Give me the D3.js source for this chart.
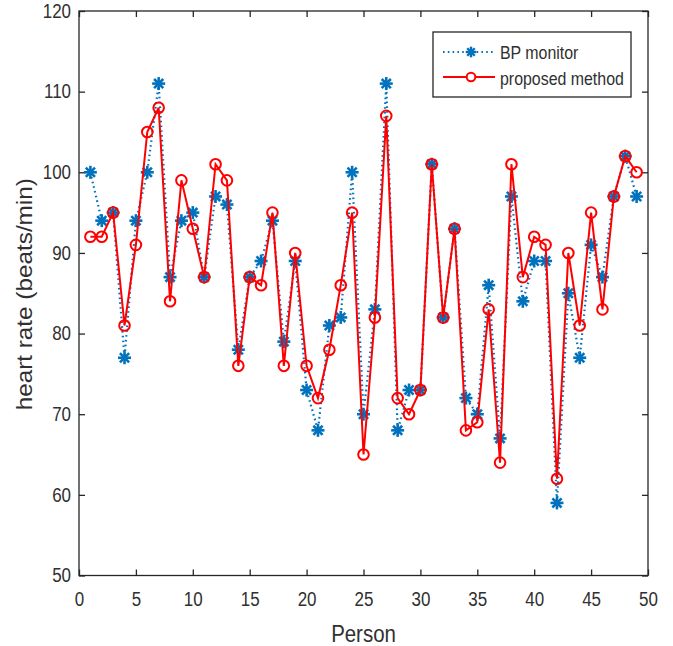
<!DOCTYPE html>
<html><head><meta charset="utf-8">
<script src="https://cdn.jsdelivr.net/npm/d3@7"></script>
<style>
body{margin:0;background:#fff;}
text{font-family:"Liberation Sans",Arial,Helvetica,sans-serif;}
</style></head>
<body>
<svg id="chart" width="673" height="646"></svg>
<script>
const persons = d3.range(1, 50);
const bpMonitor = [100,94,95,77,94,100,111,87,94,95,87,97,96,78,87,89,94,79,89,73,68,81,82,100,70,83,111,68,73,73,101,82,93,72,70,86,67,97,84,89,89,59,85,77,91,87,97,102,97];
const proposed  = [92,92,95,81,91,105,108,84,99,93,87,101,99,76,87,86,95,76,90,76,72,78,86,95,65,82,107,72,70,73,101,82,93,68,69,83,64,101,87,92,91,62,90,81,95,83,97,102,100];
const xTicks = [0,5,10,15,20,25,30,35,40,45,50];
const yTicks = [50,60,70,80,90,100,110,120];
const seriesNames = ["BP monitor","proposed method"];

const SX = 0.87; // horizontal squeeze of text seen in the reference
const svg = d3.select("#chart");
const L=79, R=648, T=11, B=575.5;
const x = d3.scaleLinear().domain([0,50]).range([L,R]);
const y = d3.scaleLinear().domain([50,120]).range([B,T]);
const axisCol = "#262626", textCol = "#303030";

// box
svg.append("rect").attr("x",L).attr("y",T).attr("width",R-L).attr("height",B-T)
  .attr("fill","none").attr("stroke",axisCol).attr("stroke-width",1.3);

// axes
const xa = svg.append("g").attr("transform",`translate(0,${B})`)
  .call(d3.axisBottom(x).tickValues(xTicks).tickSizeInner(-6).tickSizeOuter(0).tickPadding(17));
const xt = svg.append("g").attr("transform",`translate(0,${T})`)
  .call(d3.axisTop(x).tickValues(xTicks).tickSizeInner(-6).tickSizeOuter(0).tickFormat(""));
const ya = svg.append("g").attr("transform",`translate(${L},0)`)
  .call(d3.axisLeft(y).tickValues(yTicks).tickSizeInner(-6).tickSizeOuter(0).tickPadding(8));
const yr = svg.append("g").attr("transform",`translate(${R},0)`)
  .call(d3.axisRight(y).tickValues(yTicks).tickSizeInner(-6).tickSizeOuter(0).tickFormat(""));
[xa,xt,ya,yr].forEach(g=>{
  g.select(".domain").remove();
  g.selectAll("line").attr("stroke",axisCol).attr("stroke-width",1.3);
  g.selectAll("text").attr("fill",textCol).style("font-size","19.5px").attr("font-family",null);
});
xa.selectAll("text").attr("transform",`scale(${SX},1)`);
ya.selectAll("text").attr("x",-8/SX).attr("transform",`scale(${SX},1)`);

// labels
svg.append("text").attr("transform",`translate(${(L+R)/2},642) scale(${SX},1)`).attr("text-anchor","middle")
  .attr("fill",textCol).style("font-size","23.5px").text("Person");
svg.append("text").attr("transform",`translate(32,${(T+B)/2+1}) scale(${SX},1) rotate(-90)`).attr("text-anchor","middle")
  .attr("fill",textCol).style("font-size","24.3px").text("heart rate (beats/min)");

const blue = "#0072BD", red = "#FF0000";
const line = d3.line().x((d,i)=>x(persons[i])).y(d=>y(d));

function star(g, cx, cy, r, w){
  for (let k=0;k<4;k++){
    const a = k*Math.PI/4;
    g.append("line").attr("x1",cx-r*Math.cos(a)).attr("y1",cy-r*Math.sin(a))
      .attr("x2",cx+r*Math.cos(a)).attr("y2",cy+r*Math.sin(a))
      .attr("stroke",blue).attr("stroke-width",w);
  }
}

// BP monitor
svg.append("path").datum(bpMonitor).attr("d",line).attr("fill","none")
  .attr("stroke",blue).attr("stroke-width",2.2).attr("stroke-dasharray","1.6,3.2");
const gs = svg.append("g");
bpMonitor.forEach((v,i)=>star(gs, x(persons[i]), y(v), 6.5, 2.6));

// proposed
svg.append("path").datum(proposed).attr("d",line).attr("fill","none")
  .attr("stroke",red).attr("stroke-width",2);
svg.append("g").selectAll("circle").data(proposed).join("circle")
  .attr("cx",(d,i)=>x(persons[i])).attr("cy",d=>y(d)).attr("r",5.3)
  .attr("fill","none").attr("stroke",red).attr("stroke-width",2);

// legend
const lg = svg.append("g");
lg.append("rect").attr("x",433).attr("y",32).attr("width",198).attr("height",65)
  .attr("fill","#fff").attr("stroke",axisCol).attr("stroke-width",1.3);
lg.append("line").attr("x1",443).attr("x2",495).attr("y1",52).attr("y2",52)
  .attr("stroke",blue).attr("stroke-width",2.2).attr("stroke-dasharray","1.6,3.2");
star(lg,471,52,5.3,2.4);
lg.append("line").attr("x1",443).attr("x2",495).attr("y1",77).attr("y2",77)
  .attr("stroke",red).attr("stroke-width",2);
lg.append("circle").attr("cx",471).attr("cy",77).attr("r",4.3).attr("fill","#fff")
  .attr("stroke",red).attr("stroke-width",2);
lg.selectAll("text.lt").data(seriesNames).join("text").attr("class","lt")
  .attr("transform",(d,i)=>`translate(500,${59+i*25.5}) scale(${SX},1)`)
  .attr("fill",textCol).style("font-size","18.3px").text(d=>d);
</script>
</body></html>
